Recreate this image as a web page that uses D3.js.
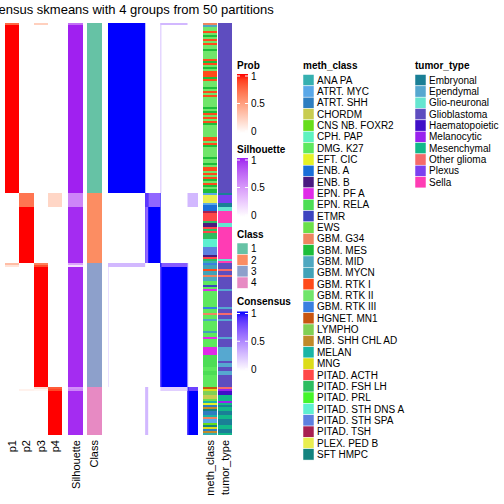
<!DOCTYPE html>
<html><head><meta charset="utf-8">
<script src="https://cdn.jsdelivr.net/npm/d3@7"></script>
<style>body{margin:0;background:#fff} text{font-family:"Liberation Sans",Arial,sans-serif;fill:#000}</style>
</head><body><svg id="c" width="504" height="504"></svg>
<script>
const titleText = "Consensus skmeans with 4 groups from 50 partitions";
const classes = ["1","2","3","4"];
const classColors = ["#66C2A5","#FC8D62","#8DA0CB","#E78AC3"];
const groupSizes = [85,35,62,24];
const probCols = ["p1","p2","p3","p4"];
// per-sample runs: [p1, p2, p3, p4, silhouette, count]
const probRuns = [
  [0.75,0,0.25,0,0.7,1],[1,0,0,0,1,84],
  [0,0.7,0,0.22,0.6,7],[0,1,0,0,0.97,28],
  [0.35,0,0.65,0,0.45,1],[0.15,0,0.85,0,0.15,1],[0,0,1,0,0.97,60],
  [0,0,0.18,0.8,0.55,1],[0,0.07,0.05,0.88,0.6,1],[0,0,0,1,0.97,22]
];
// per-sample annotation runs: [meth_class, tumor_type, count]
const annoRuns = [
  ["GBM. G34","Glioblastoma",1],["GBM. MID","Glioblastoma",1],["GBM. RTK II","Glioblastoma",2],["GBM. RTK I","Glioblastoma",1],
  ["GBM. RTK II","Glioblastoma",1],["GBM. MES","Glioblastoma",1],["GBM. RTK II","Glioblastoma",1],["GBM. RTK I","Glioblastoma",1],
  ["GBM. RTK II","Glioblastoma",1],["GBM. RTK I","Glioblastoma",1],["GBM. RTK II","Glioblastoma",2],["GBM. MES","Glioblastoma",1],
  ["GBM. RTK II","Glioblastoma",4],["GBM. RTK I","Glioblastoma",1],["GBM. MES","Glioblastoma",1],["GBM. RTK I","Glioblastoma",1],
  ["GBM. RTK II","Glioblastoma",1],["GBM. MES","Glioblastoma",1],["GBM. RTK II","Glioblastoma",1],["GBM. RTK I","Glioblastoma",3],
  ["GBM. MES","Glioblastoma",1],["GBM. RTK I","Glioblastoma",1],["GBM. RTK II","Glioblastoma",3],["GBM. MES","Glioblastoma",1],
  ["GBM. RTK II","Glioblastoma",1],["GBM. RTK I","Glioblastoma",1],["GBM. RTK II","Glioblastoma",1],["GBM. RTK I","Glioblastoma",1],
  ["GBM. RTK II","Glioblastoma",5],["GBM. MES","Glioblastoma",1],["GBM. RTK II","Glioblastoma",1],["GBM. MES","Glioblastoma",1],
  ["GBM. RTK I","Glioblastoma",1],["GBM. RTK II","Glioblastoma",1],["GBM. RTK I","Glioblastoma",1],["GBM. RTK II","Glioblastoma",1],
  ["GBM. RTK I","Glioblastoma",1],["GBM. MES","Glioblastoma",1],["GBM. RTK II","Glioblastoma",6],["GBM. RTK I","Glioblastoma",2],
  ["GBM. RTK II","Glioblastoma",1],["GBM. RTK I","Glioblastoma",1],["GBM. MES","Glioblastoma",1],["GBM. RTK II","Glioblastoma",5],
  ["GBM. MES","Glioblastoma",1],["GBM. RTK II","Glioblastoma",2],["GBM. MES","Glioblastoma",1],["GBM. RTK II","Glioblastoma",1],
  ["GBM. RTK I","Glioblastoma",2],["GBM. RTK II","Glioblastoma",1],["GBM. RTK I","Glioblastoma",1],["GBM. RTK II","Glioblastoma",1],
  ["GBM. RTK I","Glioblastoma",1],["GBM. MES","Glioblastoma",1],["GBM. RTK II","Glioblastoma",1],["GBM. RTK I","Glioblastoma",1],
  ["GBM. MES","Glioblastoma",1],["GBM. RTK II","Glioblastoma",1],["GBM. MES","Glioblastoma",2],
  ["ATRT. MYC","Embryonal",1],["PLEX. PED B","Plexus",4],["ATRT. MYC","Embryonal",1],["ENB. A","Embryonal",1],
  ["ENB. A","Glio-neuronal",2],["PITAD. TSH","Sella",1],["PITAD. ACTH","Sella",4],["PITAD. FSH LH","Sella",1],
  ["ENB. B","Glio-neuronal",2],["PITAD. ACTH","Sella",1],["PITAD. FSH LH","Sella",1],["PITAD. ACTH","Sella",1],
  ["PITAD. FSH LH","Sella",3],["PITAD. STH DNS A","Sella",4],["PITAD. STH SPA","Sella",4],["ENB. B","Sella",1],
  ["PITAD. ACTH","Sella",1],["PITAD. FSH LH","Glio-neuronal",1],["ANA PA","Sella",1],
  ["GBM. RTK III","Glioblastoma",1],["GBM. MYCN","Glioblastoma",2],["GBM. RTK I","Other glioma",1],["GBM. MYCN","Glioblastoma",2],
  ["GBM. G34","Other glioma",1],["GBM. MID","Glioblastoma",2],["DMG. K27","Glioblastoma",2],["ETMR","Glioblastoma",1],
  ["DMG. K27","Glioblastoma",1],["EPN. PF A","Ependymal",1],["DMG. K27","Glioblastoma",8],["GBM. RTK III","Ependymal",1],
  ["DMG. K27","Glioblastoma",2],["GBM. G34","Other glioma",1],["DMG. K27","Glioblastoma",2],["GBM. MID","Ependymal",1],
  ["DMG. K27","Glioblastoma",5],["GBM. MYCN","Glioblastoma",1],["DMG. K27","Glioblastoma",2],["EPN. PF A","Ependymal",1],
  ["DMG. K27","Glioblastoma",4],["EPN. PF A","Ependymal",4],["EPN. RELA","Ependymal",3],["EPN. RELA","Glioblastoma",1],
  ["EPN. RELA","Ependymal",2],["DMG. K27","Glioblastoma",2],["EPN. RELA","Ependymal",2],["DMG. K27","Glioblastoma",6],
  ["HGNET. MN1","Other glioma",1],["MNG","Melanocytic",1],["LYMPHO","Haematopoietic",2],["CHORDM","Mesenchymal",2],
  ["EWS","Mesenchymal",1],["MELAN","Melanocytic",1],["EFT. CIC","Mesenchymal",1],["ATRT. SHH","Embryonal",1],
  ["MB. SHH CHL AD","Mesenchymal",1],["SFT HMPC","Mesenchymal",1],["ATRT. SHH","Embryonal",2],["MELAN","Mesenchymal",1],
  ["GBM. G34","Mesenchymal",1],["ATRT. MYC","Embryonal",2],["CNS NB. FOXR2","Embryonal",1],["SFT HMPC","Mesenchymal",1],
  ["MNG","Mesenchymal",1],["ATRT. SHH","Embryonal",1],["MB. SHH CHL AD","Embryonal",1],["ANA PA","Mesenchymal",1]
];
// consensus blocks in sample index space: [row0,row1,col0,col1,value] (matrix is symmetric)
const consensusBlocks = [
  [0,85,0,85,1],[85,120,85,120,1],[120,182,120,182,1],[182,206,182,206,1],
  [0,1,120,182,0.3],[85,92,92,120,0.65],[85,92,85,92,0.85],[85,92,182,206,0.3],
  [120,122,0,85,0.3],[120,122,122,182,0.7],[182,184,120,182,0.2],[182,184,184,206,0.8]
];
const methClasses = ["ANA PA","ATRT. MYC","ATRT. SHH","CHORDM","CNS NB. FOXR2","CPH. PAP","DMG. K27","EFT. CIC","ENB. A","ENB. B","EPN. PF A","EPN. RELA","ETMR","EWS","GBM. G34","GBM. MES","GBM. MID","GBM. MYCN","GBM. RTK I","GBM. RTK II","GBM. RTK III","HGNET. MN1","LYMPHO","MB. SHH CHL AD","MELAN","MNG","PITAD. ACTH","PITAD. FSH LH","PITAD. PRL","PITAD. STH DNS A","PITAD. STH SPA","PITAD. TSH","PLEX. PED B","SFT HMPC"];
const methColors = ["#36B0B0","#5AA8E8","#2E7EC0","#C8CC50","#66DD1A","#5EF2C0","#5EE85E","#E5F226","#1A6FD8","#4A1A80","#E02AE8","#4DDD55","#3D44BF","#6AE04A","#EE8560","#1DBE3A","#4FA8C0","#42A2B8","#FF4A1A","#70E56A","#3A7FE0","#C85510","#80D055","#C08A2A","#1AB5A5","#DCDC1A","#FF4848","#2DBD60","#45F52A","#5EF0D0","#5E80E0","#A82050","#E8EE50","#14847F"];
const tumorTypes = ["Embryonal","Ependymal","Glio-neuronal","Glioblastoma","Haematopoietic","Melanocytic","Mesenchymal","Other glioma","Plexus","Sella"];
const tumorColors = ["#1A7F96","#56A8D0","#66E5D0","#5E4DBF","#4010C8","#9A22EE","#12B88A","#F56B6B","#7B40F0","#FF3CB4"];
const legendTicks = [0,0.5,1];

// expand runs into per-sample records
const samples = [];
probRuns.forEach(r => { for (let k=0;k<r[5];k++) samples.push({p:[r[0],r[1],r[2],r[3]], sil:r[4]}); });
let si = 0;
groupSizes.forEach((n,g) => { for (let k=0;k<n;k++) samples[si++].cls = g; });
si = 0;
annoRuns.forEach(r => { for (let k=0;k<r[2];k++) { samples[si].meth = r[0]; samples[si].tumor = r[1]; si++; } });
const N = samples.length;

const svg = d3.select("#c");
const probColor = d3.interpolateLab("#FFFFFF","#FF0000");
const silColor = d3.interpolateLab("#FFFFFF","#A020F0");
const consColor = d3.interpolateLab("#FFFFFF","#0000FF");
const methScale = d3.scaleOrdinal(methClasses, methColors);
const tumorScale = d3.scaleOrdinal(tumorTypes, tumorColors);
const classScale = d3.scaleOrdinal(classes, classColors);

const y = d3.scaleLinear().domain([0,N]).range([23,435]);
const xProb = d3.scaleBand().domain(probCols).range([5,62]);
const colX = d3.scaleBand().domain(["Silhouette","Class"]).range([68,102]).paddingInner(6/34);
const xCons = d3.scaleLinear().domain([0,N]).range([108,198]);
const xAnno = d3.scaleBand().domain(["meth_class","tumor_type"]).range([203,232]).paddingInner(1/29);

const body = svg.append("g").attr("shape-rendering","crispEdges");
samples.forEach((s,i) => {
  probCols.forEach((c,j) => {
    body.append("rect").attr("x",xProb(c)).attr("width",xProb.bandwidth())
      .attr("y",y(i)).attr("height",y(i+1)-y(i)).attr("fill",probColor(s.p[j]));
  });
  body.append("rect").attr("x",colX("Silhouette")).attr("width",colX.bandwidth())
    .attr("y",y(i)).attr("height",y(i+1)-y(i)).attr("fill",silColor(s.sil));
  body.append("rect").attr("x",colX("Class")).attr("width",colX.bandwidth())
    .attr("y",y(i)).attr("height",y(i+1)-y(i)).attr("fill",classScale(classes[s.cls]));
  body.append("rect").attr("x",xAnno("meth_class")).attr("width",xAnno.bandwidth())
    .attr("y",y(i)).attr("height",y(i+1)-y(i)).attr("fill",methScale(s.meth));
  body.append("rect").attr("x",xAnno("tumor_type")).attr("width",xAnno.bandwidth())
    .attr("y",y(i)).attr("height",y(i+1)-y(i)).attr("fill",tumorScale(s.tumor));
});
const cons = svg.append("g");
cons.append("rect").attr("x",xCons(0)).attr("y",y(0)).attr("width",xCons(N)-xCons(0)).attr("height",y(N)-y(0)).attr("fill","#fff");
consensusBlocks.forEach(b => {
  const [r0,r1,c0,c1,v] = b;
  cons.append("rect").attr("x",xCons(c0)).attr("width",xCons(c1)-xCons(c0))
    .attr("y",y(r0)).attr("height",y(r1)-y(r0)).attr("fill",consColor(v));
  cons.append("rect").attr("x",xCons(r0)).attr("width",xCons(r1)-xCons(r0))
    .attr("y",y(c0)).attr("height",y(c1)-y(c0)).attr("fill",consColor(v));
});

// title
svg.append("text").attr("x",121).attr("y",14).attr("text-anchor","middle")
  .style("font-size","13px").text(titleText);

// bottom labels
const bottomLabels = probCols.map(c => [c, xProb(c)+xProb.bandwidth()/2])
  .concat(["Silhouette","Class"].map(c => [c, colX(c)+colX.bandwidth()/2]))
  .concat(["meth_class","tumor_type"].map(c => [c, xAnno(c)+xAnno.bandwidth()/2]));
bottomLabels.forEach(([t,cx]) => {
  svg.append("text").attr("transform",`translate(${cx+4},440) rotate(-90)`)
    .attr("text-anchor","end").style("font-size","11px").text(t);
});

// legends
const defs = svg.append("defs");
function gradLegend(id, title, titleY, top, bottom, interp) {
  const g = svg.append("g");
  g.append("text").attr("x",237).attr("y",titleY).style("font-size","10px").style("font-weight","bold").text(title);
  const grad = defs.append("linearGradient").attr("id",id).attr("x1",0).attr("x2",0).attr("y1",1).attr("y2",0);
  d3.range(0,1.0001,0.1).forEach(t => grad.append("stop").attr("offset",t).attr("stop-color",interp(t)));
  const sc = d3.scaleLinear().domain([0,1]).range([bottom, top]);
  g.append("rect").attr("x",237).attr("width",11).attr("y",sc(1)-2).attr("height",sc(0)-sc(1)+4).attr("fill",`url(#${id})`);
  legendTicks.forEach(t => {
    g.append("line").attr("x1",237).attr("x2",240).attr("y1",sc(t)).attr("y2",sc(t)).attr("stroke","#fff");
    g.append("line").attr("x1",245).attr("x2",248).attr("y1",sc(t)).attr("y2",sc(t)).attr("stroke","#fff");
    g.append("text").attr("x",251).attr("y",sc(t)+3.5).style("font-size","10px").text(t);
  });
}
gradLegend("gp","Prob",69,76,131,probColor);
gradLegend("gs","Silhouette",153,160,215,silColor);
gradLegend("gc","Consensus",305,313.5,369,consColor);

const cl = svg.append("g");
cl.append("text").attr("x",237).attr("y",238).style("font-size","10px").style("font-weight","bold").text("Class");
const yClass = d3.scaleBand().domain(classes).range([243,243+4*11.34]);
classes.forEach(c => {
  cl.append("rect").attr("x",237).attr("width",11).attr("y",yClass(c)).attr("height",yClass.bandwidth()).attr("fill",classScale(c)).attr("stroke","#fff").attr("stroke-width",0.5);
  cl.append("text").attr("x",251).attr("y",yClass(c)+yClass.bandwidth()/2+3.5).style("font-size","10px").text(c);
});

function discLegend(x, title, cats, scale) {
  const g = svg.append("g");
  g.append("text").attr("x",x).attr("y",69).style("font-size","10px").style("font-weight","bold").text(title);
  const yl = d3.scaleBand().domain(cats).range([74.5,74.5+cats.length*11.34]);
  cats.forEach(c => {
    g.append("rect").attr("x",x).attr("width",11).attr("y",yl(c)).attr("height",yl.bandwidth()).attr("fill",scale(c)).attr("stroke","#fff").attr("stroke-width",0.5);
    g.append("text").attr("x",x+14).attr("y",yl(c)+yl.bandwidth()/2+3.5).style("font-size","10px").text(c);
  });
}
discLegend(303,"meth_class",methClasses,methScale);
discLegend(415,"tumor_type",tumorTypes,tumorScale);
</script></body></html>
